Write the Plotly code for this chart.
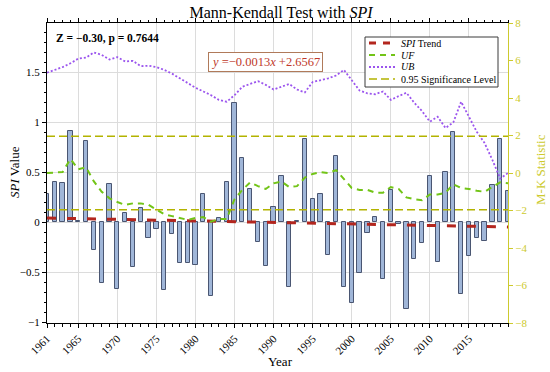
import plotly.graph_objects as go

# ---------------- data ----------------
years = list(range(1961, 2021))
spi = [0.28, 0.40, 0.39, 0.91, 0.01, 0.81, -0.28, -0.61, 0.38, -0.67,
       0.09, -0.45, 0.14, -0.16, -0.07, -0.68, -0.12, -0.41, -0.41, -0.43,
       0.28, -0.74, 0.04, 0.40, 1.19, 0.64, 0.33, -0.20, -0.44, 0.15,
       0.46, -0.65, 0.01, 0.83, 0.23, 0.28, -0.33, 0.66, -0.65, -0.81,
       -0.51, -0.11, 0.05, -0.57, 0.32, -0.02, -0.87, -0.37, -0.21, 0.46,
       -0.40, 0.50, 0.90, -0.72, -0.34, -0.16, -0.19, 0.37, 0.83, 0.31]
uf = [0.0, 0.02, 0.05, 0.75, 0.2, 0.3, -0.45, -1.0, -1.35, -1.55,
      -1.7, -1.62, -1.62, -1.7, -1.95, -2.2, -2.3, -2.4, -2.5, -2.4,
      -2.35, -2.6, -2.45, -2.45, -1.4, -0.9, -0.5, -0.7, -0.85, -0.55,
      -0.45, -0.75, -0.7, -0.25, -0.05, 0.05, 0.0, 0.15, -0.3, -0.8,
      -0.9, -0.9, -1.05, -1.05, -0.75, -0.85, -1.3, -1.4, -1.45, -1.15,
      -1.15, -1.05, -0.6, -0.8, -0.85, -0.95, -1.0, -0.75, -0.5, -0.55]
ub = [5.35, 5.5, 5.65, 5.85, 6.1, 6.15, 6.43, 6.3, 6.05, 6.18,
      5.95, 5.98, 5.7, 5.72, 5.65, 5.5, 5.3, 5.05, 4.8, 4.55,
      4.35, 4.15, 3.9, 3.8, 4.15, 4.6, 4.75, 4.9, 4.7, 4.45,
      4.6, 4.75, 4.45, 4.3, 4.85, 4.95, 5.05, 5.2, 5.5, 4.95,
      4.4, 4.25, 4.2, 4.35, 3.9, 4.1, 4.28, 3.75, 3.3, 2.74,
      3.0, 2.4, 2.7, 3.8, 3.0, 2.2, 1.6, 0.7, -0.3, 0.0]
trend_years = [1961, 2020]
trend_values = [0.04, -0.05]
sig_upper = 1.96
sig_lower = -1.96
xtick_years = [1961, 1965, 1970, 1975, 1980, 1985, 1990, 1995, 2000, 2005, 2010, 2015]
xtick_labels = [str(y) for y in xtick_years]

# ---------------- styles ----------------
SERIF = "Liberation Serif"
BAR_FILL = "#a0b6d8"
BAR_EDGE = "#4a5672"
TREND_C = "#b3261e"
UF_C = "#72c417"
UB_C = "#9b55ee"
SIG_C = "#b3b300"
RIGHT_C = "#cdca2e"

# plot area in pixels
L, R, T, B = 47, 508, 23, 323
def px(x):
    return (x - L) / (R - L)
def py(y):
    return (B - y) / (B - T)

fig = go.Figure()

fig.add_trace(go.Bar(x=years, y=spi, width=0.55,
                     marker=dict(color=BAR_FILL, line=dict(color=BAR_EDGE, width=1)),
                     showlegend=False, yaxis="y"))
fig.add_trace(go.Scatter(x=trend_years, y=trend_values, mode="lines",
                         line=dict(color=TREND_C, width=3, dash="9px,11px"),
                         showlegend=False, yaxis="y"))
fig.add_trace(go.Scatter(x=years, y=uf, mode="lines",
                         line=dict(color=UF_C, width=2, dash="6px,5px"),
                         showlegend=False, yaxis="y2"))
fig.add_trace(go.Scatter(x=years, y=ub, mode="lines",
                         line=dict(color=UB_C, width=1.8, dash="2px,2px"),
                         showlegend=False, yaxis="y2"))
for lvl in (sig_upper, sig_lower):
    fig.add_trace(go.Scatter(x=[years[0], years[-1]], y=[lvl, lvl], mode="lines",
                             line=dict(color=SIG_C, width=1.5, dash="8px,4px"),
                             showlegend=False, yaxis="y2"))

# ---------------- custom legend ----------------
shapes = [dict(type="rect", xref="paper", yref="paper",
               x0=px(365), x1=px(498), y0=py(87), y1=py(37),
               line=dict(color="#3a3a3a", width=1), fillcolor="white", layer="above")]
legend_items = [
    ("<i>SPI</i> Trend", TREND_C, 3, "7px,7px"),
    ("<i>UF</i>", UF_C, 2, "6px,5px"),
    ("<i>UB</i>", UB_C, 1.8, "2px,2px"),
    ("0.95 Significance Level", SIG_C, 1.5, "8px,4px"),
]
annotations = []
rows = [43, 55, 67, 79]
for (label, col, w, d), ry in zip(legend_items, rows):
    shapes.append(dict(type="line", xref="paper", yref="paper",
                       x0=px(369), x1=px(395), y0=py(ry), y1=py(ry),
                       line=dict(color=col, width=w, dash=d), layer="above"))
    annotations.append(dict(xref="paper", yref="paper", x=px(399), y=py(ry),
                            xanchor="left", yanchor="middle", showarrow=False,
                            text=label, font=dict(family=SERIF, size=10, color="black")))

annotations += [
    dict(xref="paper", yref="paper", x=px(54), y=py(38), xanchor="left", yanchor="middle",
         showarrow=False, text="<b>Z = −0.30, p = 0.7644</b>",
         font=dict(family=SERIF, size=11.5, color="black")),
    dict(xref="paper", yref="paper", x=px(265), y=py(62), xanchor="center", yanchor="middle",
         showarrow=False, text="<i>y</i> =−0.0013<i>x</i> +2.6567",
         font=dict(family=SERIF, size=12.5, color="#c0392b"),
         bordercolor="#b07a5a", borderwidth=1, borderpad=2, bgcolor="white"),
    dict(xref="paper", yref="paper", x=px(14), y=py(172), xanchor="center", yanchor="middle",
         showarrow=False, textangle=-90, text="<i>SPI</i> Value",
         font=dict(family=SERIF, size=13, color="black")),
    dict(xref="paper", yref="paper", x=px(540), y=py(170), xanchor="center", yanchor="middle",
         showarrow=False, textangle=-90, text="M-K Statistic",
         font=dict(family=SERIF, size=13, color=RIGHT_C)),
    dict(xref="paper", yref="paper", x=px(280), y=py(362), xanchor="center", yanchor="middle",
         showarrow=False, text="Year",
         font=dict(family=SERIF, size=13, color="black")),
]

fig.update_layout(
    width=550, height=372,
    margin=dict(l=L, r=550 - R, t=T, b=372 - B),
    paper_bgcolor="white", plot_bgcolor="white",
    font=dict(family=SERIF, size=11, color="black"),
    title=dict(text="Mann-Kendall Test with <i>SPI</i>", x=px(281), xref="paper",
               xanchor="center", y=1 - 12 / 372, yref="container", yanchor="middle",
               font=dict(family=SERIF, size=16, color="black")),
    bargap=0,
    shapes=shapes, annotations=annotations,
    showlegend=False,
    xaxis=dict(range=[1961, 2020], tickmode="array", tickvals=xtick_years, ticktext=xtick_labels,
               tickangle=-45, ticks="outside", ticklen=4, tickcolor="black",
               minor=dict(dtick=1, tick0=1961, ticks="outside", ticklen=2.5, tickcolor="black", showgrid=False),
               showgrid=True, gridcolor="#dcdcdc", gridwidth=1,
               showline=True, linecolor="black", linewidth=1, mirror="ticks",
               zeroline=False, tickfont=dict(family=SERIF, size=11)),
    yaxis=dict(range=[-1.01, 1.99], dtick=0.5, tick0=0, ticks="outside", ticklen=4, tickcolor="black",
               minor=dict(dtick=0.1, ticks="outside", ticklen=2.5, tickcolor="black", showgrid=False),
               showgrid=True, gridcolor="#dcdcdc", gridwidth=1,
               showline=True, linecolor="black", linewidth=1, mirror=False,
               zeroline=False, tickfont=dict(family=SERIF, size=11)),
    yaxis2=dict(range=[-8, 8], dtick=2, tick0=0, overlaying="y", side="right",
                ticks="outside", ticklen=4, tickcolor=RIGHT_C,
                showgrid=False, showline=True, linecolor=RIGHT_C, linewidth=1,
                zeroline=False, tickfont=dict(family=SERIF, size=11, color=RIGHT_C)),
)

fig.write_html("out.html", config={"displayModeBar": False},
               post_script="document.body.style.margin='0px';")
